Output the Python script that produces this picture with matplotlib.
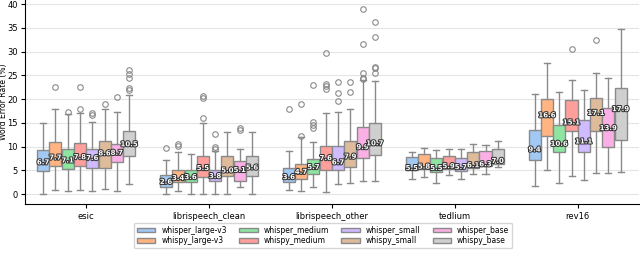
import matplotlib
matplotlib.use("Agg")
from matplotlib import pyplot as plt
from matplotlib.patches import Patch
import matplotlib.patheffects as pe

datasets = ["esic", "librispeech_clean", "librispeech_other", "tedlium", "rev16"]
models = ["whisper_large-v3", "whispy_large-v3", "whisper_medium", "whispy_medium",
          "whisper_small", "whispy_small", "whisper_base", "whispy_base"]
colors = ["#a1c9f4", "#ffb482", "#8de5a1", "#ff9f9b",
          "#d0bbff", "#debb9b", "#fab0e4", "#cfcfcf"]

# box stats, one row per dataset, one value per model
med = [[6.7, 7.7, 7.1, 7.8, 7.6, 8.6, 8.7, 10.5],
       [2.6, 3.4, 3.6, 5.5, 3.8, 5.0, 5.1, 5.6],
       [3.6, 4.7, 5.7, 7.6, 6.7, 7.9, 9.9, 10.7],
       [5.5, 5.8, 5.5, 5.9, 5.7, 6.1, 6.3, 7.0],
       [9.4, 16.6, 10.6, 15.1, 11.1, 17.1, 13.9, 17.9]]
q1 = [[4.9, 5.9, 5.4, 5.9, 5.6, 5.6, 6.8, 8.1],
      [1.55, 2.6, 2.6, 3.65, 2.8, 3.8, 2.75, 3.8],
      [2.6, 3.3, 4.2, 5.2, 5.05, 5.75, 7.7, 8.35],
      [5.05, 5.4, 4.7, 5.4, 4.85, 5.6, 5.9, 6.3],
      [7.15, 12.3, 8.9, 13.3, 8.9, 13.3, 10.0, 11.5]]
q3 = [[9.4, 10.9, 9.6, 10.7, 9.6, 11.3, 10.5, 13.3],
      [4.0, 5.05, 5.2, 8.0, 5.05, 8.0, 6.95, 8.0],
      [5.55, 6.45, 7.45, 10.2, 10.2, 11.2, 14.2, 14.9],
      [7.85, 8.55, 7.7, 8.1, 7.7, 8.9, 9.1, 9.6],
      [13.6, 20.1, 14.5, 19.9, 15.6, 20.3, 18.2, 22.4]]
wlo = [[0.0, 0.8, 0.6, 0.8, 0.6, 1.05, 0.6, 2.1],
       [0.15, 0.6, 0.15, 0.1, 0.15, 0.15, 1.55, 0.15],
       [0.85, 0.6, 1.55, 0.5, 2.25, 2.45, 2.8, 2.8],
       [3.15, 3.65, 2.45, 4.0, 3.15, 4.35, 4.35, 5.75],
       [1.75, 5.05, 2.4, 3.9, 3.1, 4.5, 4.5, 4.7]]
whi = [[14.9, 17.9, 16.8, 17.0, 15.1, 17.9, 17.3, 20.8],
       [7.3, 8.9, 8.4, 14.9, 9.2, 13.0, 9.6, 13.1],
       [9.1, 12.1, 11.0, 17.1, 17.3, 18.0, 24.0, 23.8],
       [8.9, 9.8, 9.4, 9.6, 9.6, 10.5, 10.45, 11.2],
       [21.0, 27.6, 21.5, 24.0, 22.0, 25.4, 24.4, 34.8]]
fliers = [[[], [22.6], [17.3], [18.0, 22.6], [16.6, 17.1], [18.9], [20.5],
           [21.9, 22.3, 24.4, 25.2, 26.1]],
          [[9.8], [10.1, 10.5], [], [16.1, 20.3, 20.7], [9.6, 9.9, 12.6], [],
           [13.6, 14.0], []],
          [[17.9], [12.3, 18.9], [14.0, 14.5, 15.2, 23.0], [22.2, 22.7, 23.2, 29.7],
           [19.6, 21.2, 23.6], [21.4, 23.6], [24.2, 24.5, 25.5, 31.7, 38.9],
           [25.5, 26.5, 26.8, 33.0, 36.2]],
          [[], [], [], [], [], [], [], []],
          [[], [], [], [30.5], [], [32.4], [], []]]

edge = "#8a8a8a"
fig = plt.figure(figsize=(6.4, 2.56), dpi=100)
ax = fig.add_axes([0.0386, 0.205, 0.96, 0.795])

width = 0.1
for i in range(len(datasets)):
    for j in range(len(models)):
        pos = i + (j - 3.5) * width
        stats = [dict(med=med[i][j], q1=q1[i][j], q3=q3[i][j],
                      whislo=wlo[i][j], whishi=whi[i][j], fliers=fliers[i][j])]
        ax.bxp(stats, positions=[pos], widths=width * 0.98, patch_artist=True,
               manage_ticks=False,
               boxprops=dict(facecolor=colors[j], edgecolor=edge, linewidth=1),
               whiskerprops=dict(color=edge, linewidth=1),
               capprops=dict(color=edge, linewidth=1),
               medianprops=dict(color=edge, linewidth=1),
               flierprops=dict(marker="o", markersize=4, markerfacecolor="none",
                               markeredgecolor=edge, markeredgewidth=0.8))
        ax.text(pos, med[i][j], f"{med[i][j]:.1f}", ha="center", va="center",
                fontsize=5, fontweight="bold", color="white", zorder=5,
                path_effects=[pe.withStroke(linewidth=1.5, foreground="#333333")])

ax.set_xlim(-0.5, 4.5)
ax.set_ylim(-1.95, 40.85)
ax.set_xticks(range(len(datasets)))
ax.set_xticklabels(datasets, fontsize=6)
ax.set_yticks(range(0, 41, 5))
ax.tick_params(axis="y", labelsize=6, length=3, width=0.8, pad=2)
ax.tick_params(axis="x", length=3, width=0.8, pad=3)
ax.set_ylabel("Word Error Rate (%)", fontsize=5.5)
ax.yaxis.set_label_coords(-0.027, 0.5)
ax.yaxis.grid(True, color="#e5e5e5", linewidth=0.8)
ax.set_axisbelow(True)
ax.spines["top"].set_visible(False)
ax.spines["right"].set_visible(False)

handles = [Patch(facecolor=c, edgecolor=edge, label=m) for c, m in zip(colors, models)]
fig.legend(handles=handles, loc="lower center", bbox_to_anchor=(0.505, 0.015), ncol=4,
           fontsize=5.5, frameon=True, edgecolor="#cccccc", handlelength=2.4,
           handleheight=0.6, columnspacing=1.6, labelspacing=0.2, borderpad=0.4,
           handletextpad=0.8)

plt.savefig("out.png", dpi=100)
